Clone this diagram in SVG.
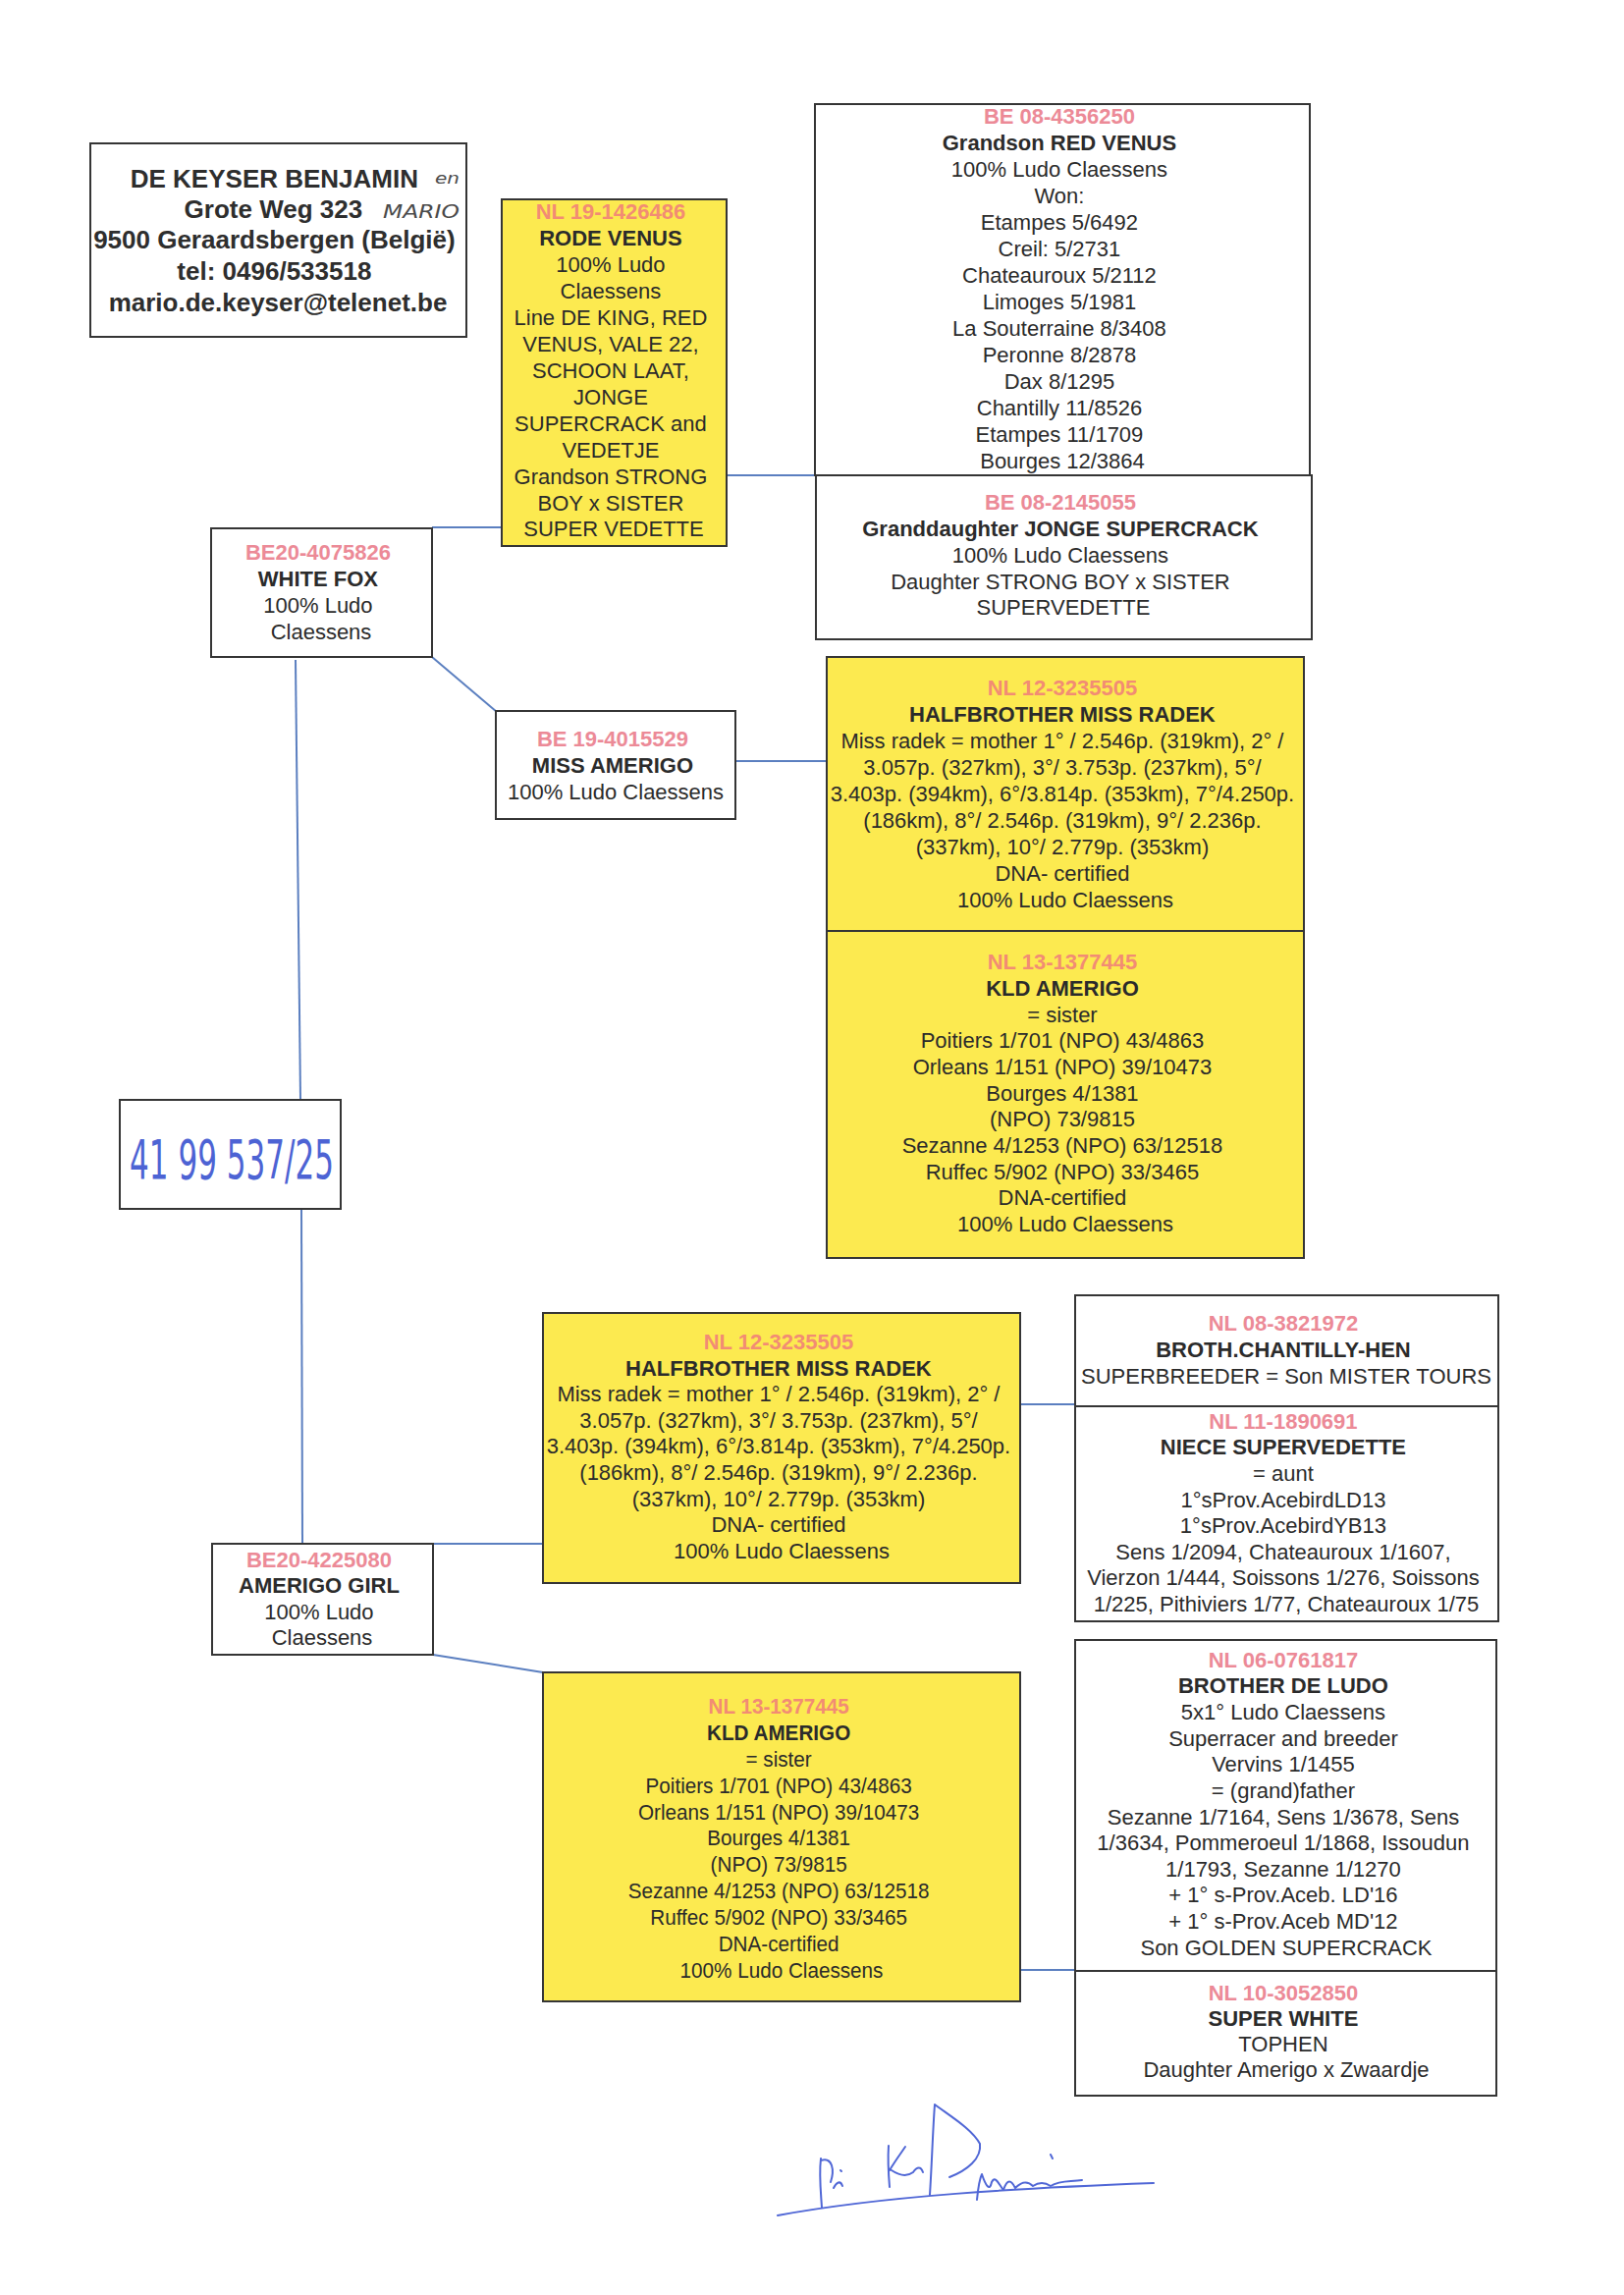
<svg xmlns="http://www.w3.org/2000/svg" width="1654" height="2337" viewBox="0 0 1654 2337">
<style>
.bg{fill:#ffffff}
.b{fill:#ffffff;stroke:#353535;stroke-width:2}
.y{fill:#fcea50;stroke:#353535;stroke-width:2}
.t{font-family:"Liberation Sans",Arial,sans-serif;font-size:22px;fill:#2b2b2b;text-anchor:middle}
.n{font-weight:bold}
.id{font-weight:bold;fill:#ec8a97}
.idy{font-weight:bold;fill:#f28c74}
.addr{font-family:"Liberation Sans",Arial,sans-serif;font-size:26px;font-weight:bold;fill:#2e2e2e;text-anchor:middle}
.hw{font-family:"DejaVu Sans","Liberation Sans",sans-serif;font-style:italic;fill:#4a4a4a}
.c{stroke:#5b7fc0;stroke-width:2;fill:none}
.sig{stroke:#5067d6;stroke-width:2;fill:none;stroke-linecap:round;stroke-linejoin:round}
</style>
<rect class="bg" x="0" y="0" width="1654" height="2337"/>

<g id="connectors">
<path class="c" d="M440 537 H511"/>
<path class="c" d="M740 484 H830"/>
<path class="c" d="M440 669 L506 725"/>
<path class="c" d="M749 775 H842"/>
<path class="c" d="M301 672 L306 1120"/>
<path class="c" d="M307 1231 L308 1572"/>
<path class="c" d="M441 1572 H553"/>
<path class="c" d="M441 1685 L553 1703"/>
<path class="c" d="M1039 1430 H1095"/>
<path class="c" d="M1039 2006 H1095"/>
</g>

<g id="address">
<rect class="b" x="92" y="146" width="383" height="197"/>
<text class="addr">
<tspan x="283" y="191">DE KEYSER BENJAMIN</tspan>
<tspan x="282" y="222">Grote Weg 323</tspan>
<tspan x="283" y="253">9500 Geraardsbergen (België)</tspan>
<tspan x="283" y="285">tel: 0496/533518</tspan>
<tspan x="283" y="317">mario.de.keyser@telenet.be</tspan>
</text>
<text class="hw" x="443" y="187" font-size="16" textLength="25" lengthAdjust="spacingAndGlyphs">en</text>
<text class="hw" x="390" y="222" font-size="20" textLength="78" lengthAdjust="spacingAndGlyphs">MARIO</text>
</g>

<g id="rode-venus">
<rect class="y" x="511" y="203" width="229" height="353"/>
<text class="t">
<tspan class="idy" x="625" y="223">NL 19-1426486</tspan>
<tspan class="n" x="625" y="250">RODE VENUS</tspan>
<tspan x="625" y="277">100% Ludo</tspan>
<tspan x="625" y="304">Claessens</tspan>
<tspan x="625" y="331">Line DE KING, RED</tspan>
<tspan x="625" y="358">VENUS, VALE 22,</tspan>
<tspan x="625" y="385">SCHOON LAAT,</tspan>
<tspan x="625" y="412">JONGE</tspan>
<tspan x="625" y="439">SUPERCRACK and</tspan>
<tspan x="625" y="466">VEDETJE</tspan>
<tspan x="625" y="493">Grandson STRONG</tspan>
<tspan x="625" y="520">BOY x SISTER</tspan>
<tspan x="625" y="546">SUPER VEDETTE</tspan>
</text>
</g>

<g id="grandson-red-venus">
<rect class="b" x="830" y="106" width="504" height="378"/>
<text class="t">
<tspan class="id" x="1082" y="126">BE 08-4356250</tspan>
<tspan class="n" x="1082" y="153">Grandson RED VENUS</tspan>
<tspan x="1082" y="180">100% Ludo Claessens</tspan>
<tspan x="1082" y="207">Won:</tspan>
<tspan x="1082" y="234">Etampes 5/6492</tspan>
<tspan x="1082" y="261">Creil: 5/2731</tspan>
<tspan x="1082" y="288">Chateauroux 5/2112</tspan>
<tspan x="1082" y="315">Limoges 5/1981</tspan>
<tspan x="1082" y="342">La Souterraine 8/3408</tspan>
<tspan x="1082" y="369">Peronne 8/2878</tspan>
<tspan x="1082" y="396">Dax 8/1295</tspan>
<tspan x="1082" y="423">Chantilly 11/8526</tspan>
<tspan x="1082" y="450">Etampes 11/1709</tspan>
<tspan x="1082" y="477">Bourges 12/3864</tspan>
</text>
</g>

<g id="granddaughter-jonge-supercrack">
<rect class="b" x="831" y="484" width="505" height="167"/>
<text class="t">
<tspan class="id" x="1083" y="519">BE 08-2145055</tspan>
<tspan class="n" x="1083" y="546">Granddaughter JONGE SUPERCRACK</tspan>
<tspan x="1083" y="573">100% Ludo Claessens</tspan>
<tspan x="1083" y="600">Daughter STRONG BOY x SISTER</tspan>
<tspan x="1083" y="626">SUPERVEDETTE</tspan>
</text>
</g>

<g id="white-fox">
<rect class="b" x="215" y="538" width="225" height="131"/>
<text class="t">
<tspan class="id" x="327" y="570">BE20-4075826</tspan>
<tspan class="n" x="327" y="597">WHITE FOX</tspan>
<tspan x="327" y="624">100% Ludo</tspan>
<tspan x="327" y="651">Claessens</tspan>
</text>
</g>

<g id="miss-amerigo">
<rect class="b" x="505" y="724" width="244" height="110"/>
<text class="t">
<tspan class="id" x="627" y="760">BE 19-4015529</tspan>
<tspan class="n" x="627" y="787">MISS AMERIGO</tspan>
<tspan x="627" y="814">100% Ludo Claessens</tspan>
</text>
</g>

<g id="halfbrother-miss-radek-1">
<rect class="y" x="842" y="669" width="486" height="279"/>
<text class="t">
<tspan class="idy" x="1085" y="708">NL 12-3235505</tspan>
<tspan class="n" x="1085" y="735">HALFBROTHER MISS RADEK</tspan>
<tspan x="1085" y="762">Miss radek = mother 1° / 2.546p. (319km), 2° /</tspan>
<tspan x="1085" y="789">3.057p. (327km), 3°/ 3.753p. (237km), 5°/</tspan>
<tspan x="1085" y="816">3.403p. (394km), 6°/3.814p. (353km), 7°/4.250p.</tspan>
<tspan x="1085" y="843">(186km), 8°/ 2.546p. (319km), 9°/ 2.236p.</tspan>
<tspan x="1085" y="870">(337km), 10°/ 2.779p. (353km)</tspan>
<tspan x="1085" y="897">DNA- certified</tspan>
<tspan x="1085" y="924">100% Ludo Claessens</tspan>
</text>
</g>

<g id="kld-amerigo-1">
<rect class="y" x="842" y="948" width="486" height="333"/>
<text class="t">
<tspan class="idy" x="1085" y="987">NL 13-1377445</tspan>
<tspan class="n" x="1085" y="1014">KLD AMERIGO</tspan>
<tspan x="1085" y="1041">= sister</tspan>
<tspan x="1085" y="1067">Poitiers 1/701 (NPO) 43/4863</tspan>
<tspan x="1085" y="1094">Orleans 1/151 (NPO) 39/10473</tspan>
<tspan x="1085" y="1121">Bourges 4/1381</tspan>
<tspan x="1085" y="1147">(NPO) 73/9815</tspan>
<tspan x="1085" y="1174">Sezanne 4/1253 (NPO) 63/12518</tspan>
<tspan x="1085" y="1201">Ruffec 5/902 (NPO) 33/3465</tspan>
<tspan x="1085" y="1227">DNA-certified</tspan>
<tspan x="1085" y="1254">100% Ludo Claessens</tspan>
</text>
</g>

<g id="ring-number">
<rect class="b" x="122" y="1120" width="225" height="111"/>
<text x="0" y="0" transform="translate(132 1200) scale(1 1.6)" font-family="DejaVu Sans, Liberation Sans, sans-serif" font-size="34" fill="#4d63d4" textLength="208" lengthAdjust="spacingAndGlyphs">41 99 537/25</text>
</g>

<g id="halfbrother-miss-radek-2">
<rect class="y" x="553" y="1337" width="486" height="275"/>
<text class="t">
<tspan class="idy" x="796" y="1374">NL 12-3235505</tspan>
<tspan class="n" x="796" y="1401">HALFBROTHER MISS RADEK</tspan>
<tspan x="796" y="1427">Miss radek = mother 1° / 2.546p. (319km), 2° /</tspan>
<tspan x="796" y="1454">3.057p. (327km), 3°/ 3.753p. (237km), 5°/</tspan>
<tspan x="796" y="1480">3.403p. (394km), 6°/3.814p. (353km), 7°/4.250p.</tspan>
<tspan x="796" y="1507">(186km), 8°/ 2.546p. (319km), 9°/ 2.236p.</tspan>
<tspan x="796" y="1534">(337km), 10°/ 2.779p. (353km)</tspan>
<tspan x="796" y="1560">DNA- certified</tspan>
<tspan x="796" y="1587">100% Ludo Claessens</tspan>
</text>
</g>

<g id="amerigo-girl">
<rect class="b" x="216" y="1572" width="225" height="113"/>
<text class="t">
<tspan class="id" x="328" y="1596">BE20-4225080</tspan>
<tspan class="n" x="328" y="1622">AMERIGO GIRL</tspan>
<tspan x="328" y="1649">100% Ludo</tspan>
<tspan x="328" y="1675">Claessens</tspan>
</text>
</g>

<g id="kld-amerigo-2">
<rect class="y" x="553" y="1703" width="486" height="335"/>
<text class="t" transform="translate(796 0) scale(0.94 1) translate(-796 0)">
<tspan class="idy" x="796" y="1745">NL 13-1377445</tspan>
<tspan class="n" x="796" y="1772">KLD AMERIGO</tspan>
<tspan x="796" y="1799">= sister</tspan>
<tspan x="796" y="1826">Poitiers 1/701 (NPO) 43/4863</tspan>
<tspan x="796" y="1853">Orleans 1/151 (NPO) 39/10473</tspan>
<tspan x="796" y="1879">Bourges 4/1381</tspan>
<tspan x="796" y="1906">(NPO) 73/9815</tspan>
<tspan x="796" y="1933">Sezanne 4/1253 (NPO) 63/12518</tspan>
<tspan x="796" y="1960">Ruffec 5/902 (NPO) 33/3465</tspan>
<tspan x="796" y="1987">DNA-certified</tspan>
<tspan x="796" y="2014">100% Ludo Claessens</tspan>
</text>
</g>

<g id="broth-chantilly-hen">
<rect class="b" x="1095" y="1319" width="431" height="113"/>
<text class="t">
<tspan class="id" x="1310" y="1355">NL 08-3821972</tspan>
<tspan class="n" x="1310" y="1382">BROTH.CHANTILLY-HEN</tspan>
<tspan x="1310" y="1409">SUPERBREEDER = Son MISTER TOURS</tspan>
</text>
</g>

<g id="niece-supervedette">
<rect class="b" x="1095" y="1432" width="431" height="219"/>
<text class="t">
<tspan class="id" x="1310" y="1455">NL 11-1890691</tspan>
<tspan class="n" x="1310" y="1481">NIECE SUPERVEDETTE</tspan>
<tspan x="1310" y="1508">= aunt</tspan>
<tspan x="1310" y="1535">1°sProv.AcebirdLD13</tspan>
<tspan x="1310" y="1561">1°sProv.AcebirdYB13</tspan>
<tspan x="1310" y="1588">Sens 1/2094, Chateauroux 1/1607,</tspan>
<tspan x="1310" y="1614">Vierzon 1/444, Soissons 1/276, Soissons</tspan>
<tspan x="1310" y="1641">1/225, Pithiviers 1/77, Chateauroux 1/75</tspan>
</text>
</g>

<g id="brother-de-ludo">
<rect class="b" x="1095" y="1670" width="429" height="337"/>
<text class="t">
<tspan class="id" x="1310" y="1698">NL 06-0761817</tspan>
<tspan class="n" x="1310" y="1724">BROTHER DE LUDO</tspan>
<tspan x="1310" y="1751">5x1° Ludo Claessens</tspan>
<tspan x="1310" y="1778">Superracer and breeder</tspan>
<tspan x="1310" y="1804">Vervins 1/1455</tspan>
<tspan x="1310" y="1831">= (grand)father</tspan>
<tspan x="1310" y="1858">Sezanne 1/7164, Sens 1/3678, Sens</tspan>
<tspan x="1310" y="1884">1/3634, Pommeroeul 1/1868, Issoudun</tspan>
<tspan x="1310" y="1911">1/1793, Sezanne 1/1270</tspan>
<tspan x="1310" y="1937">+ 1° s-Prov.Aceb. LD'16</tspan>
<tspan x="1310" y="1964">+ 1° s-Prov.Aceb MD'12</tspan>
<tspan x="1310" y="1991">Son GOLDEN SUPERCRACK</tspan>
</text>
</g>

<g id="super-white">
<rect class="b" x="1095" y="2007" width="429" height="127"/>
<text class="t">
<tspan class="id" x="1310" y="2037">NL 10-3052850</tspan>
<tspan class="n" x="1310" y="2063">SUPER WHITE</tspan>
<tspan x="1310" y="2089">TOPHEN</tspan>
<tspan x="1310" y="2115">Daughter Amerigo x Zwaardje</tspan>
</text>
</g>

<g id="signature">
<path class="sig" d="M792 2256 C900 2236 1040 2228 1175 2223"/>
<path class="sig" d="M836 2198 C834 2215 836 2232 837 2248 M836 2200 C848 2196 850 2210 846 2222"/>
<path class="sig" d="M849 2228 C852 2222 856 2220 858 2226 M856 2210 L857 2211"/>
<path class="sig" d="M905 2185 C904 2200 905 2215 906 2227 M906 2210 C912 2200 918 2192 922 2186 M908 2210 C914 2214 922 2218 930 2212 C934 2206 938 2206 940 2212"/>
<path class="sig" d="M947 2235 C949 2205 950 2170 952 2143 C968 2155 990 2168 998 2183 C1000 2198 985 2210 967 2217"/>
<path class="sig" d="M995 2240 C996 2230 997 2220 1000 2214 C1004 2226 1008 2232 1010 2222 C1014 2214 1018 2226 1022 2230 C1026 2218 1030 2220 1034 2228 C1040 2222 1046 2220 1052 2226 C1058 2222 1064 2222 1070 2226 C1080 2220 1090 2222 1102 2220"/>
<path class="sig" d="M1070 2194 L1072 2198"/>
</g>
</svg>
